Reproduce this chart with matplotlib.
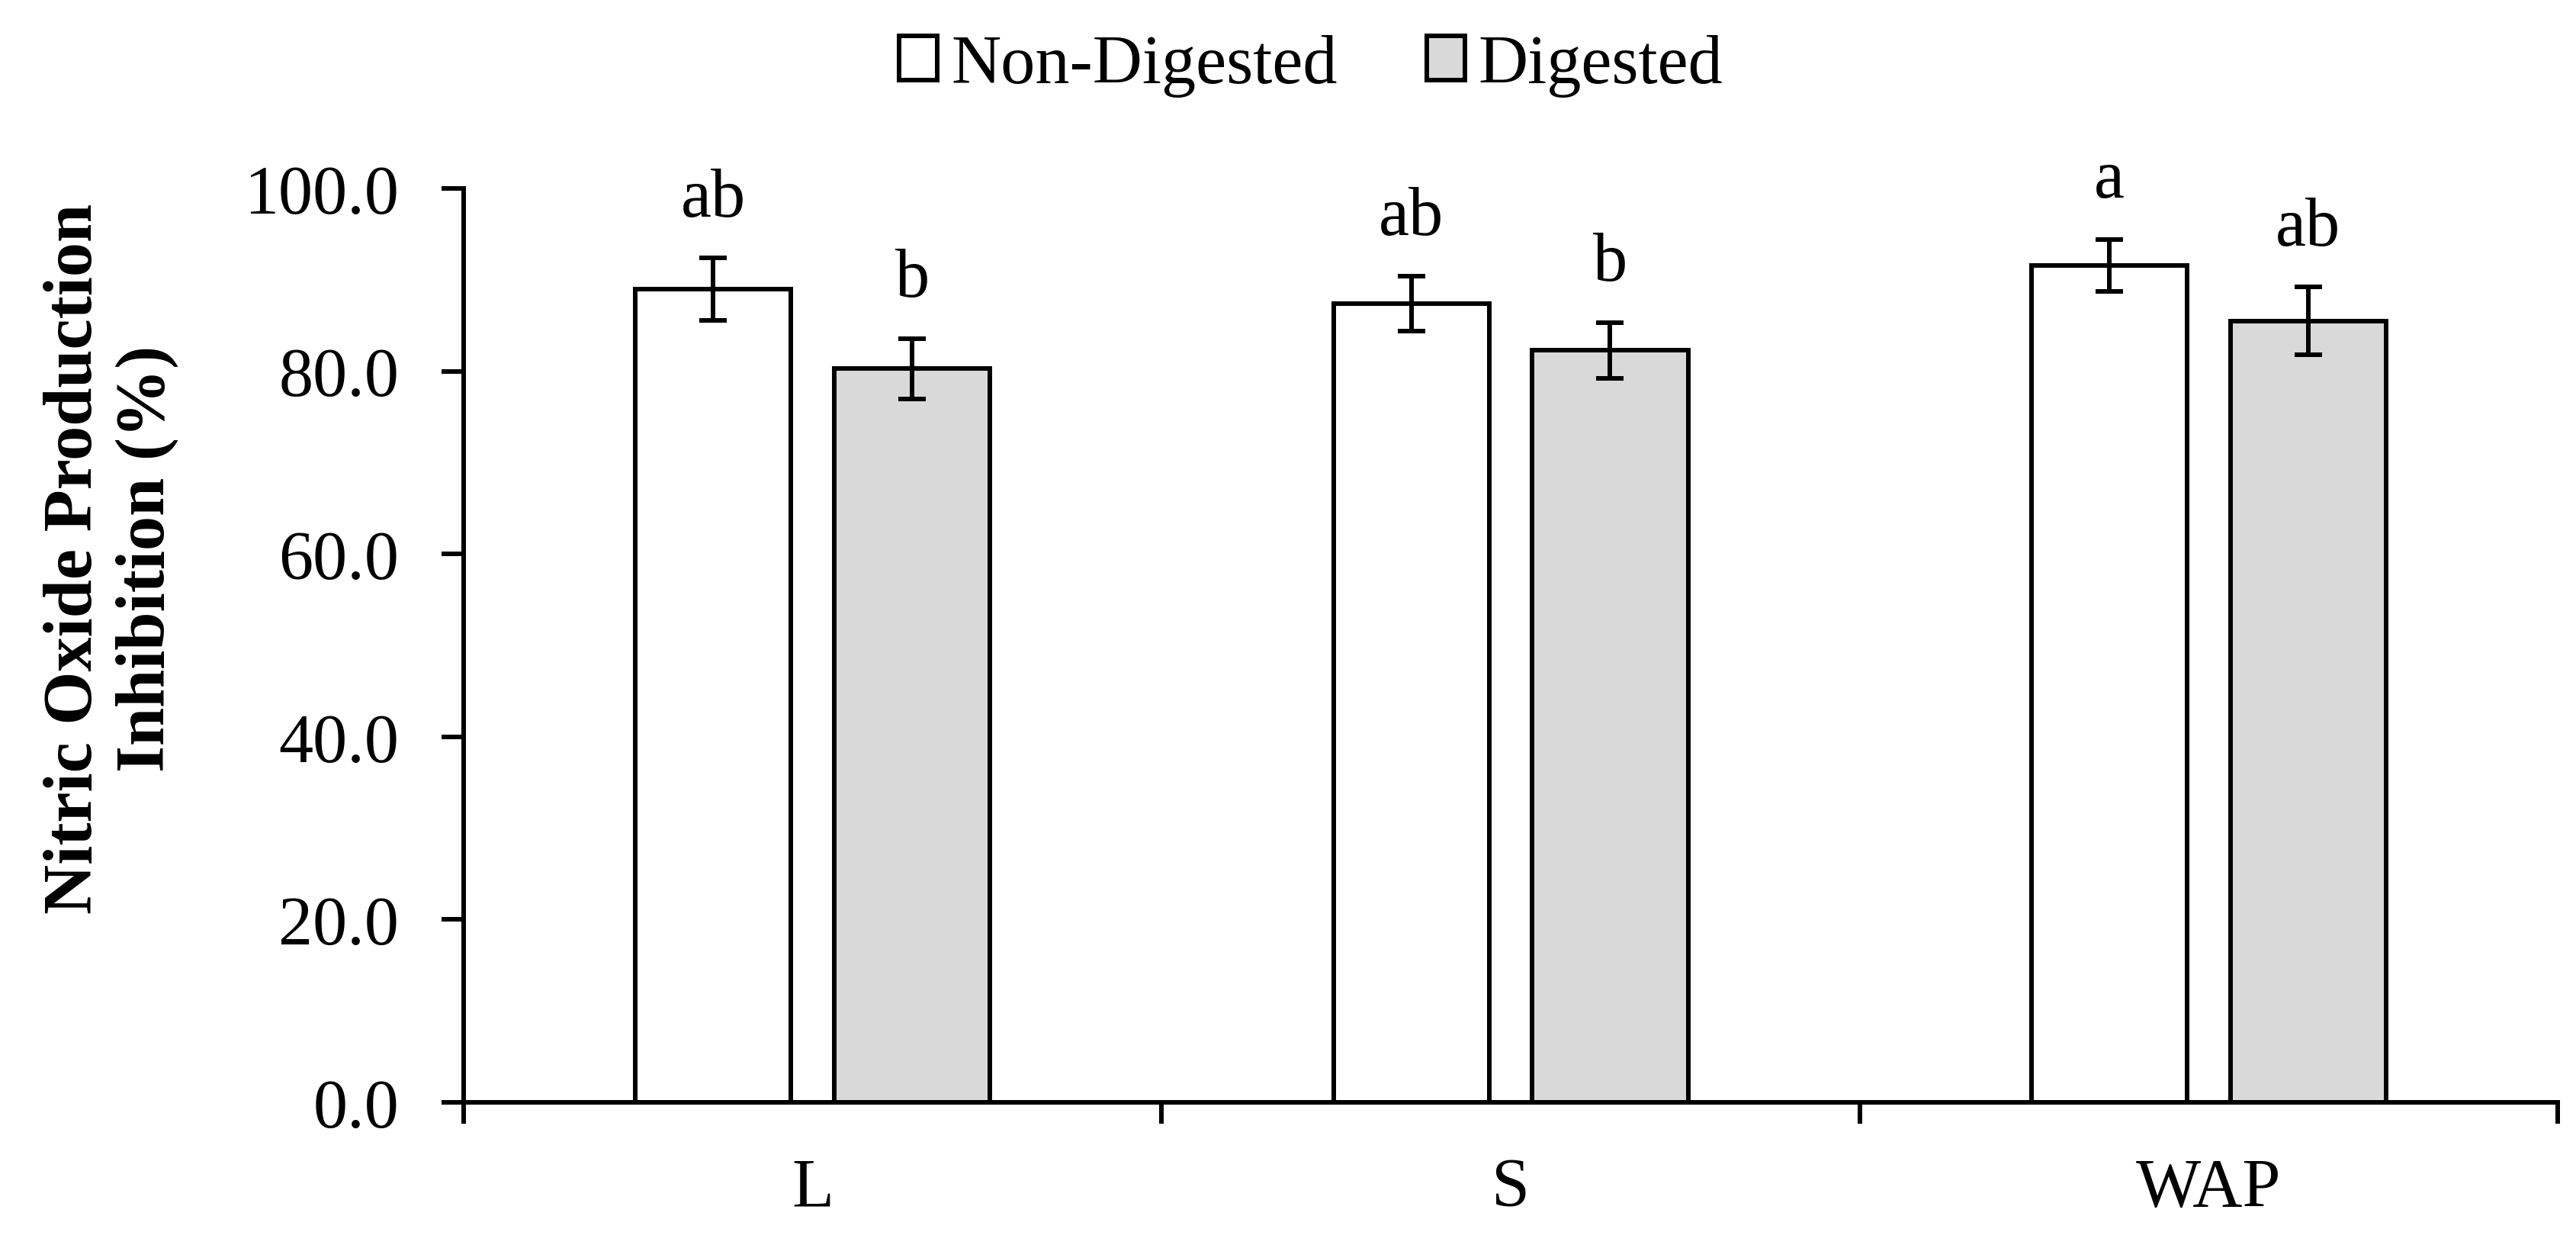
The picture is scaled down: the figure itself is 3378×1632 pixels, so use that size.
import matplotlib
matplotlib.use("Agg")
import matplotlib.pyplot as plt
import numpy as np

plt.rcParams['font.family'] = ['Liberation Serif', 'DejaVu Serif']

categories = ["L", "S", "WAP"]
series_names = ["Non-Digested", "Digested"]
non_digested = [89.0, 87.4, 91.6]
non_digested_err = [3.4, 3.0, 2.85]
digested = [80.3, 82.3, 85.5]
digested_err = [3.3, 3.05, 3.7]
letters_nd = ["ab", "ab", "a"]
letters_d = ["b", "b", "ab"]
y_ticks = [0, 20, 40, 60, 80, 100]

fs = 65
lw = 4.3

fig = plt.figure(figsize=(33.78, 16.33), dpi=100)
ax = fig.add_axes([0.18, 0.1145, 0.8129, 0.7336])

x = np.arange(len(categories))
w = 0.223
off = 0.1425

err_kw = dict(elinewidth=lw, capsize=13, capthick=lw, ecolor="black")
b1 = ax.bar(x - off, non_digested, w, color="white", edgecolor="black", linewidth=lw,
            yerr=non_digested_err, error_kw=err_kw, label=series_names[0], zorder=2)
b2 = ax.bar(x + off, digested, w, color="#d9d9d9", edgecolor="black", linewidth=lw,
            yerr=digested_err, error_kw=err_kw, label=series_names[1], zorder=2)

# significance letters above the error bars
for i in range(len(categories)):
    ax.annotate(letters_nd[i], (x[i] - off, non_digested[i] + non_digested_err[i]),
                xytext=(0, 40), textcoords="offset points", ha="center", va="baseline", fontsize=fs)
    ax.annotate(letters_d[i], (x[i] + off, digested[i] + digested_err[i]),
                xytext=(0, 40), textcoords="offset points", ha="center", va="baseline", fontsize=fs)

ax.set_xlim(-0.5, len(categories) - 0.5)
ax.set_ylim(0, 100)
ax.set_yticks(y_ticks)
ax.set_yticklabels(["%.1f" % v for v in y_ticks], fontsize=fs)
ax.tick_params(axis="y", direction="out", length=21, width=lw, pad=40)

ax.set_xticks(np.arange(len(categories) + 1) - 0.5)
ax.set_xticklabels([])
ax.tick_params(axis="x", which="major", direction="out", length=20, width=lw)
ax.set_xticks(x, minor=True)
ax.set_xticklabels(categories, minor=True, fontsize=fs)
ax.tick_params(axis="x", which="minor", length=0, pad=52)

for s in ["top", "right"]:
    ax.spines[s].set_visible(False)
for s in ["left", "bottom"]:
    ax.spines[s].set_linewidth(lw)

fig.text(0.043, 0.5517, "Nitric Oxide Production\nInhibition (%)", rotation=90,
         ha="center", va="center", multialignment="center", fontsize=fs, fontweight="bold")

fig.legend(handles=[b1, b2], labels=series_names, loc="center", bbox_to_anchor=(0.509, 0.947),
           ncol=2, frameon=False, fontsize=fs, handlelength=0.55, handleheight=0.62,
           handletextpad=0.2, columnspacing=1.3)

fig.savefig("out.png", dpi=100)
